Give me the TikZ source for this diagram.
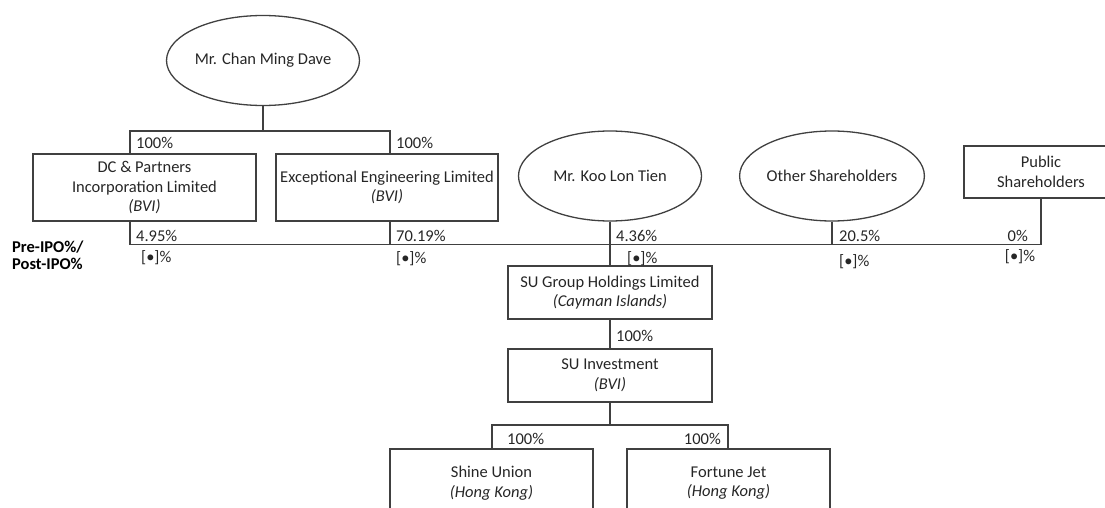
\documentclass[tikz,border=0pt]{standalone}
\usepackage{fontspec}
\setmainfont{Carlito}
\usetikzlibrary{shapes.geometric}

\begin{document}
\begin{tikzpicture}[x=1pt, y=-1pt,
  font=\fontsize{16.5}{19.5}\selectfont, text=black!85,
  link/.style={draw=black!75, line width=1.3pt},
  owner/.style={ellipse, draw=black!75, line width=1.3pt, inner sep=0pt,
    minimum width=183pt, minimum height=90pt},
  entity/.style={rectangle, draw=black!75, line width=1.3pt, align=center, inner sep=0pt},
  pct/.style={inner sep=0pt, anchor=west}]
\useasboundingbox (0,0) rectangle (1105,508);

\node[owner] (chan) at (263,60.5) {Mr. Chan Ming Dave};
\node[owner] (koo) at (610,176) {Mr. Koo Lon Tien};
\node[owner] (other) at (832,176) {Other Shareholders};
\node[entity, minimum width=223pt, minimum height=67pt] (dc) at (144.5,187.5) {DC \& Partners\\Incorporation Limited\\\textit{(BVI)}};
\node[entity, minimum width=222pt, minimum height=67pt] (exc) at (387,187.5) {Exceptional Engineering Limited\\\textit{(BVI)}};
\node[entity, minimum width=154pt, minimum height=52pt] (public) at (1041,172) {Public\\Shareholders};
\node[entity, minimum width=204pt, minimum height=53pt] (sugroup) at (610,292.5) {SU Group Holdings Limited\\\textit{(Cayman Islands)}};
\node[entity, minimum width=204pt, minimum height=53pt] (suinv) at (610,375.5) {SU Investment\\\textit{(BVI)}};
\node[entity, minimum width=203pt, minimum height=68pt] (shine) at (491.5,483) {Shine Union\\\textit{(Hong Kong)}};
\node[entity, minimum width=203pt, minimum height=68pt] (fortune) at (728.5,483) {Fortune Jet\\\textit{(Hong Kong)}};

\coordinate (t1) at (130,131);
\coordinate (t2) at (390,131);
\coordinate (b1) at (130,244.5);
\coordinate (b2) at (390,244.5);
\coordinate (s1) at (492,425);
\coordinate (s2) at (728,425);

\draw[link] (chan.south) -- (chan.south |- t1);
\draw[link] (dc.north -| t1) -- (t1) -- (t2) -- (exc.north -| t2);
\draw[link] (dc.south -| b1) -- (b1) -- (b1 -| public.south) -- (public.south);
\draw[link] (exc.south -| b2) -- (b2);
\draw[link] (koo.south) -- (sugroup.north);
\draw[link] (other.south) -- (other.south |- b1);
\draw[link] (sugroup.south) -- (suinv.north);
\draw[link] (suinv.south) -- (suinv.south |- s1);
\draw[link] (shine.north -| s1) -- (s1) -- (s2) -- (fortune.north -| s2);

\node[pct] (p1) at (136,143) {100\%};
\node[pct] (p2) at (396,143) {100\%};
\node[pct] (p3) at (136,236) {4.95\%};
\node[pct] (p4) at (396,236) {70.19\%};
\node[pct] (p5) at (616,236) {4.36\%};
\node[pct] (p6) at (839,236) {20.5\%};
\node[pct, anchor=east] (p7) at (1028,236) {0\%};
\node[pct] (q1) at (141,258) {[\textbullet]\%};
\node[pct] (q2) at (396,259) {[\textbullet]\%};
\node[pct] (q3) at (627,259) {[\textbullet]\%};
\node[pct] (q4) at (839,262) {[\textbullet]\%};
\node[pct, anchor=center] (q5) at (1020,257) {[\textbullet]\%};
\node[pct] (p8) at (616,336) {100\%};
\node[pct] (p9) at (507,439) {100\%};
\node[pct, anchor=east] (p10) at (721,439) {100\%};

\node[pct, align=left, font=\fontsize{16.5}{17}\selectfont\bfseries, text=black] (ipo) at (12,255) {Pre-IPO\%/\\Post-IPO\%};
\end{tikzpicture}
\end{document}
